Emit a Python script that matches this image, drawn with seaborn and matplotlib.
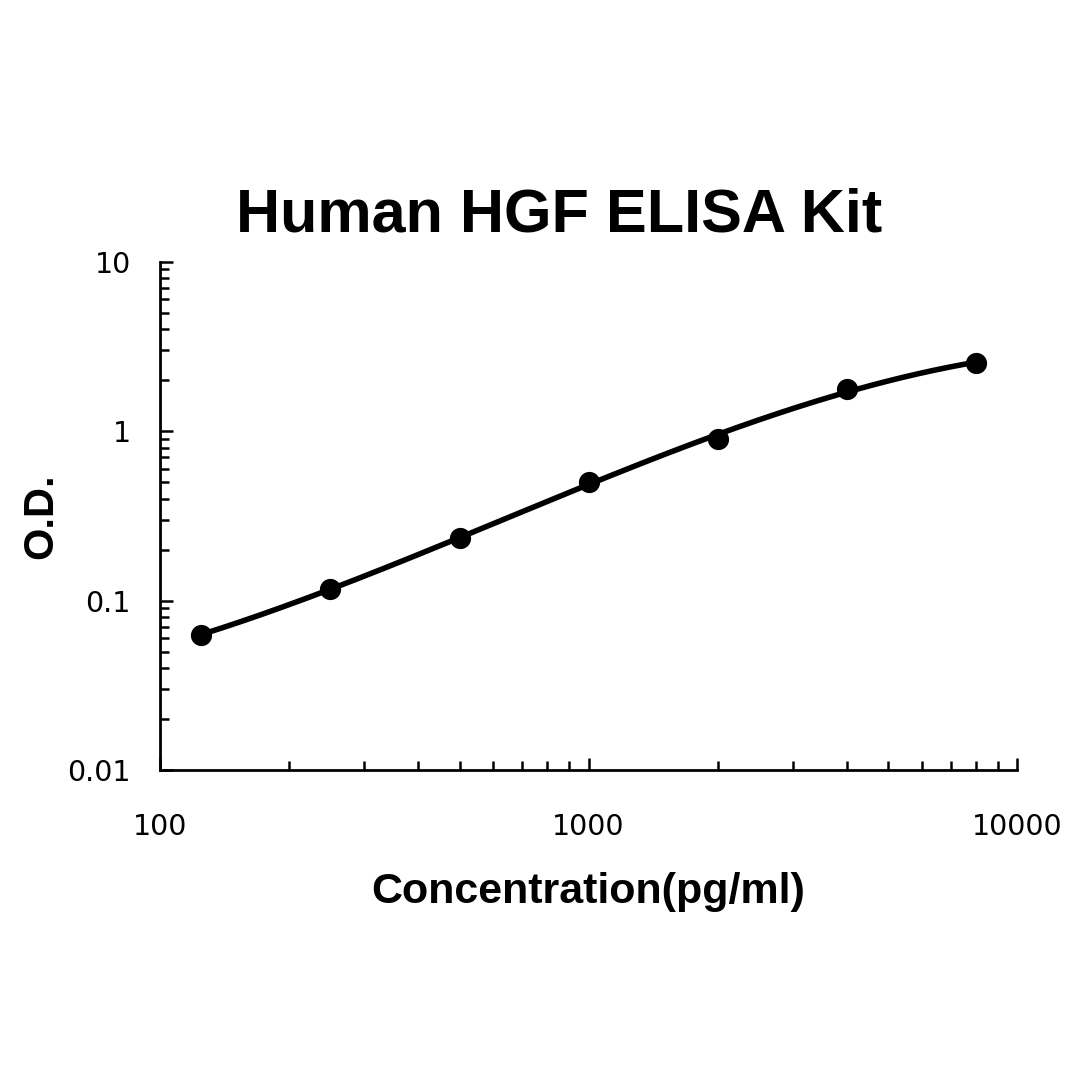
import numpy as np
import pandas as pd
import matplotlib
matplotlib.use("Agg")
import matplotlib.pyplot as plt
import seaborn as sns

# standard curve readings
conc = [125, 250, 500, 1000, 2000, 4000, 8000]
od = [0.063, 0.117, 0.234, 0.50, 0.90, 1.78, 2.52]

title = "Human HGF ELISA Kit"
x_label = "Concentration(pg/ml)"
y_label = "O.D."
x_ticks = [100, 1000, 10000]
x_tick_labels = ["100", "1000", "10000"]
y_ticks = [0.01, 0.1, 1, 10]
y_tick_labels = ["0.01", "0.1", "1", "10"]

sns.set_style("ticks")
plt.rcParams['font.family'] = ['Liberation Sans', 'DejaVu Sans']
plt.rcParams.update({"text.color": "black", "axes.labelcolor": "black",
                     "xtick.color": "black", "ytick.color": "black"})

df = pd.DataFrame({"conc": conc, "od": od})

# fitted curve: cubic in log-log space
coef = np.polyfit(np.log10(df["conc"]), np.log10(df["od"]), 3)
xs = np.logspace(np.log10(conc[0]), np.log10(conc[-1]), 200)
fit = pd.DataFrame({"conc": xs, "od": 10 ** np.polyval(coef, np.log10(xs))})

fig = plt.figure(figsize=(10.8, 10.77), dpi=100)
ax = fig.add_axes([0.148, 0.285, 0.794, 0.472])

sns.lineplot(data=fit, x="conc", y="od", color="black", linewidth=4, ax=ax)
sns.scatterplot(data=df, x="conc", y="od", color="black", s=200, edgecolor="black", zorder=3, ax=ax)

ax.set_xscale("log")
ax.set_yscale("log")
ax.set_xlim(100, 10000)
ax.set_ylim(0.01, 10)

ax.set_xticks(x_ticks)
ax.set_xticklabels(x_tick_labels, family="DejaVu Sans", fontsize=20.5)
ax.set_yticks(y_ticks)
ax.set_yticklabels(y_tick_labels, family="DejaVu Sans", fontsize=20.5)

ax.tick_params(axis="both", which="major", direction="in", length=9, width=1.8, color="black")
ax.tick_params(axis="both", which="minor", direction="in", length=6.5, width=1.8, color="black")
ax.tick_params(axis="x", which="major", pad=31)
ax.tick_params(axis="y", which="major", pad=21)

sns.despine(ax=ax)
for side in ["left", "bottom"]:
    ax.spines[side].set_linewidth(2)
    ax.spines[side].set_color("black")

ax.set_xlabel(x_label, fontsize=31, fontweight="bold", labelpad=22)
ax.set_ylabel(y_label, fontsize=30, fontweight="bold", labelpad=4)
ax.set_title(title, fontsize=44, fontweight="bold", pad=22, x=0.466)

fig.savefig("out.png", dpi=100)
